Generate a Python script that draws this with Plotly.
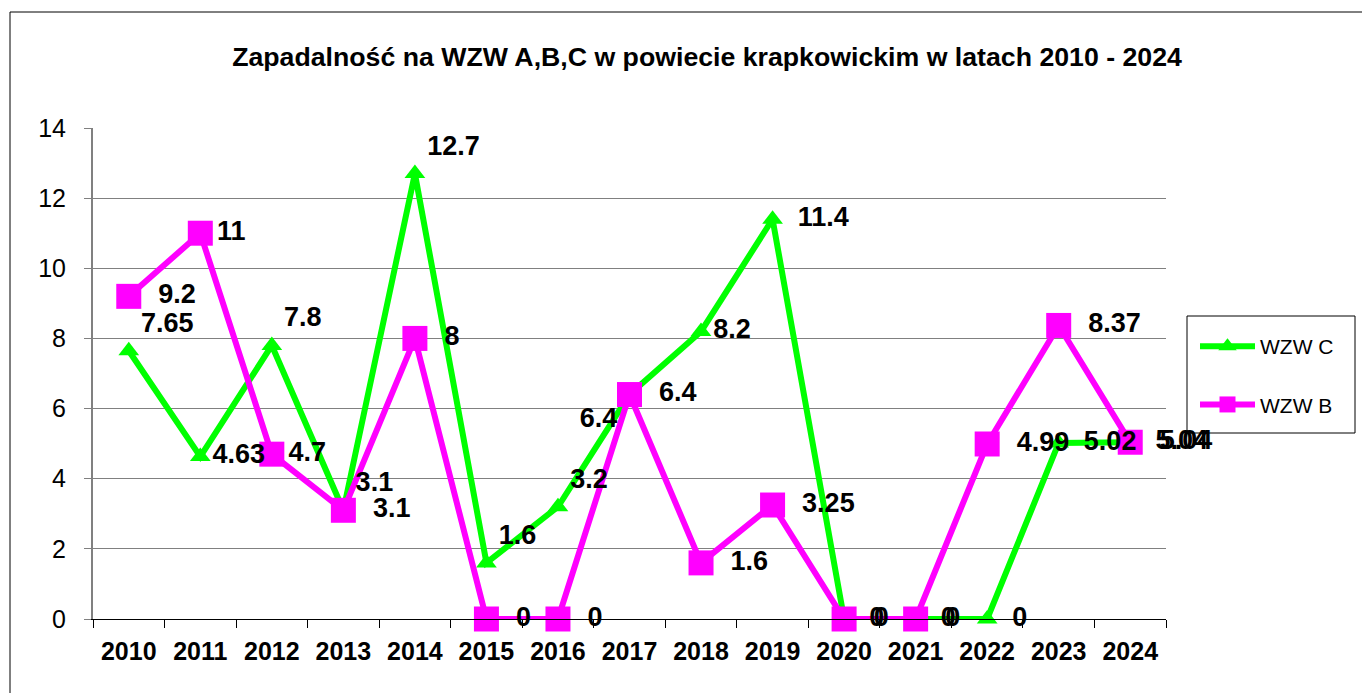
import plotly.graph_objects as go

years = ["2010", "2011", "2012", "2013", "2014", "2015", "2016", "2017",
         "2018", "2019", "2020", "2021", "2022", "2023", "2024"]
wzw_c = [7.65, 4.63, 7.8, 3.1, 12.7, 1.6, 3.2, 6.4, 8.2, 11.4, 0, 0, 0, 5.02, 5.04]
wzw_b = [9.2, 11, 4.7, 3.1, 8, 0, 0, 6.4, 1.6, 3.25, 0, 0, 4.99, 8.37, 5.04]

# label placement (style only)
c_pos = ["top right", "middle right", "top right", "top right", "top right",
         "top right", "top right", "bottom left", "middle right", "middle right",
         "middle right", "middle right", "middle right", "middle right", "middle right"]
c_pad = [0, 0, 0, 0, 0, 0, 0, 0, 0, 1, 1, 1, 1, 1, 1]
b_pad = [1, 0, 0, 1, 1, 1, 1, 1, 1, 1, 1, 1, 1, 1, 1]

PAD = " \u2009"
FONT = "Arial, Liberation Sans, sans-serif"
GREEN = "#00FF00"
MAGENTA = "#FF00FF"
CLEAR = "rgba(0,0,0,0)"
LABEL_FONT = dict(family=FONT, size=27, color="black", weight="bold")

fig = go.Figure()
fig.add_trace(go.Scatter(
    x=years, y=wzw_c, name="WZW C", mode="lines+markers",
    line=dict(color=GREEN, width=6),
    marker=dict(symbol="triangle-up", size=18, color=GREEN),
    legendgroup="c", cliponaxis=False,
))
fig.add_trace(go.Scatter(
    x=years, y=wzw_b, name="WZW B", mode="lines+markers",
    line=dict(color=MAGENTA, width=6),
    marker=dict(symbol="square", size=25, color=MAGENTA),
    legendgroup="b", cliponaxis=False,
))
# data labels drawn on top of all marks (invisible markers keep the offsets)
fig.add_trace(go.Scatter(
    x=years, y=wzw_c, mode="markers+text", showlegend=False, hoverinfo="skip",
    text=[(PAD if p else "") + str(v) for v, p in zip(wzw_c, c_pad)], textposition=c_pos,
    marker=dict(symbol="triangle-up", size=18, color=CLEAR), textfont=LABEL_FONT,
    cliponaxis=False,
))
fig.add_trace(go.Scatter(
    x=years, y=wzw_b, mode="markers+text", showlegend=False, hoverinfo="skip",
    text=[(PAD if p else "") + str(v) for v, p in zip(wzw_b, b_pad)], textposition="middle right",
    marker=dict(symbol="square", size=25, color=CLEAR), textfont=LABEL_FONT,
    cliponaxis=False,
))

W0, W1 = 93, 1166
Y0, Y1 = 619, 128
pw = W1 - W0
ph = Y0 - Y1

def px(x):
    return (x - W0) / pw

def py(y):
    return (Y0 - y) / ph

fig.update_layout(
    width=1362, height=693,
    margin=dict(l=W0, r=1362 - W1, t=Y1, b=693 - Y0, autoexpand=False),
    paper_bgcolor="white", plot_bgcolor="white",
    font=dict(family=FONT, color="black"),
    title=dict(text="<b>Zapadalność na WZW A,B,C w powiecie krapkowickim w latach 2010 - 2024</b>",
               x=707 / 1362, xanchor="center", y=1 - 57 / 693, yanchor="middle",
               font=dict(size=26.7, family=FONT, color="black")),
    xaxis=dict(type="category", tickson="boundaries", ticks="outside", ticklen=8,
               tickcolor="black", showline=True, linecolor="black", linewidth=1,
               showgrid=False, tickfont=dict(size=25, family=FONT, weight="bold"),
               ticklabelstandoff=10,
               range=[-0.5, 14.5], fixedrange=True),
    yaxis=dict(range=[0, 14], dtick=2, ticks="outside", ticklen=7, tickcolor="#808080",
               showline=True, linecolor="#808080", linewidth=2, showgrid=True,
               gridcolor="#808080", gridwidth=1, zeroline=False,
               ticklabelstandoff=13,
               tickfont=dict(size=25, family=FONT)),
    legend=dict(x=px(1195), y=py(326), xanchor="left", yanchor="top",
                borderwidth=0, bgcolor="rgba(0,0,0,0)",
                font=dict(size=21, family=FONT), tracegroupgap=28,
                traceorder="grouped", itemwidth=55),
    showlegend=True,
)

# legend box
fig.add_shape(type="rect", xref="paper", yref="paper",
              x0=px(1187), x1=px(1355), y0=py(433), y1=py(316),
              line=dict(color="black", width=1), fillcolor="white", layer="below")

# outer chart frame (left and top edges)
fig.add_shape(type="line", xref="paper", yref="paper",
              x0=px(10), x1=px(10), y0=py(12), y1=py(700),
              line=dict(color="black", width=1))
fig.add_shape(type="line", xref="paper", yref="paper",
              x0=px(10), x1=px(1370), y0=py(12), y1=py(12),
              line=dict(color="black", width=1))

fig.write_html("out.html", config={"displayModeBar": False},
               post_script="document.body.style.margin='0px';")
